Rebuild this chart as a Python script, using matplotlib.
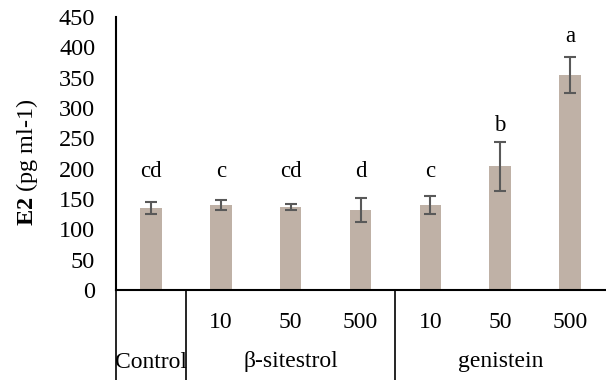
import matplotlib
matplotlib.use("Agg")
import matplotlib.pyplot as plt
import matplotlib.transforms as mtransforms

plt.rcParams['font.family'] = ['Liberation Serif', 'DejaVu Serif']
plt.rcParams['mathtext.fontset'] = 'custom'
plt.rcParams['mathtext.rm'] = 'Liberation Serif'
plt.rcParams['mathtext.bf'] = 'Liberation Serif:bold'

# data
doses = ["", "10", "50", "500", "10", "50", "500"]
groups = ["Control", "β-sitestrol", "genistein"]
group_sizes = [1, 3, 3]
means = [135, 140, 137, 132, 140, 204, 354]
errors = [10, 8, 5, 20, 15, 40, 30]
letters = ["cd", "c", "cd", "d", "c", "b", "a"]
letter_y = [186, 186, 186, 186, 186, 262, 408]
yticks = [0, 50, 100, 150, 200, 250, 300, 350, 400, 450]

W, H = 606, 380
fig = plt.figure(figsize=(W / 100, H / 100), dpi=100)
ax = fig.add_axes([116 / W, 1 - 290 / H, (605 - 116) / W, (290 - 17) / H])

x = list(range(len(means)))
ax.bar(x, means, width=0.31, color='#BFB1A6', zorder=2)
ax.errorbar(x, means, yerr=errors, fmt='none', ecolor='#595959',
            elinewidth=1.5, capsize=4.5, capthick=1.5, zorder=3)
for xi, lab, ly in zip(x, letters, letter_y):
    ax.text(xi, ly, lab, ha='center', va='baseline', fontsize=16.5)

ax.set_xlim(-0.5, len(means) - 0.5)
ax.set_ylim(0, 450)
ax.set_yticks(yticks)
ax.set_yticklabels([str(v) for v in yticks], fontsize=17.5)
ax.tick_params(axis='y', length=0, pad=15)
ax.set_xticks([])
for s in ['top', 'right']:
    ax.spines[s].set_visible(False)
ax.spines['left'].set_linewidth(1.5)
ax.spines['bottom'].set_linewidth(1.5)

# hierarchical category axis
trans = mtransforms.blended_transform_factory(ax.transData, fig.transFigure)
for xi, d in zip(x, doses):
    ax.text(xi, 1 - 322 / H, d, transform=trans, ha='center', va='center',
            fontsize=17, clip_on=False)
start = 0
bounds = [-0.5]
for g, n in zip(groups, group_sizes):
    end = start + n
    cx = (start - 0.5 + end - 0.5) / 2
    ax.text(cx, 1 - 362 / H, g, transform=trans, ha='center', va='center',
            fontsize=17, clip_on=False)
    bounds.append(end - 0.5)
    start = end
for b in bounds[:-1]:
    ax.plot([b, b], [1 - 290 / H, 0], transform=trans, color='black',
            lw=1.2, clip_on=False)

fig.text(27 / W, 1 - 162 / H, r'$\mathbf{E2}$ (pg ml-1)', rotation=90,
         ha='center', va='center', fontsize=17.5)

fig.savefig('out.png', dpi=100)
